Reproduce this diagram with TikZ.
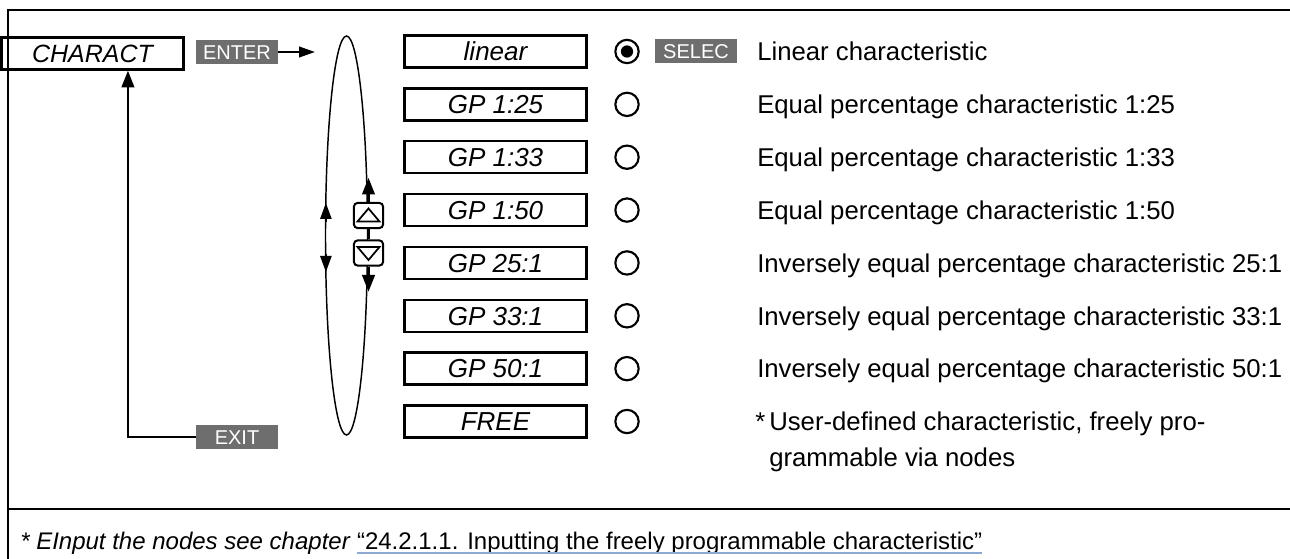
\documentclass[tikz,border=0pt]{standalone}
\usepackage{fontspec}
\setmainfont{Liberation Sans}
\usetikzlibrary{arrows.meta,calc}
\definecolor{keygray}{HTML}{6E6E6E}
\definecolor{linkblue}{HTML}{8DA8D2}
\begin{document}
\begin{tikzpicture}[x=0.75pt,y=-0.75pt,
  menubox/.style={draw, line width=1.8pt, minimum width=136.5pt, minimum height=24pt, inner sep=0pt,
    font=\fontsize{19.5}{22}\selectfont\itshape, text height=14pt, text depth=0pt},
  key/.style={fill=keygray, text=white, minimum width=61.5pt, minimum height=18pt, inner sep=0pt,
    font=\fontsize{15}{18}\selectfont, text height=10.8pt, text depth=0pt},
  desc/.style={anchor=west, inner sep=0pt, font=\fontsize{19.3}{27}\selectfont, text height=14pt, text depth=0pt},
  radio/.style={draw, circle, line width=1.6pt, minimum size=17.5pt, inner sep=0pt},
  btn/.style={draw, rounded corners=3pt, line width=1.5pt, minimum width=22pt, minimum height=19pt, inner sep=0pt, fill=white},
  conn/.style={line width=1.5pt},
  tip/.style={-{Triangle[length=12.5pt,width=9.5pt]}},
  smalltip/.style={-{Triangle[length=12pt,width=8.5pt]}},
  foot/.style={anchor=base west, inner sep=0pt, font=\fontsize{18}{21}\selectfont},
]
\useasboundingbox (0,0) rectangle (1290,559);
% frame
\draw[line width=1.5pt] (1290,10) -- (8,10) -- (8,559);
\draw[line width=1.5pt] (8,509.5) -- (1290,509.5);

% left part
\node[menubox, font=\fontsize{18.75}{22}\selectfont\itshape] (charact) at (92.5,53.5) {CHARACT};
\node[key] (enter) at (237,52) {ENTER};
\coordinate (loopin) at (315,52);
\draw[conn, -{Triangle[length=12pt,width=8pt]}] (enter.east) -- (loopin);
\node[key] (exit) at (237,437.5) {EXIT};
\draw[conn, tip] (exit.west) -| ([xshift=26.6pt]charact.south);

% scrolling loop
\draw[line width=1.1pt] (346.5,235.5) ellipse [x radius=21, y radius=199.5];
\draw[line width=1.1pt, smalltip] (325.9,222) -- (325.9,203);
\draw[line width=1.1pt, smalltip] (325.9,254) -- (325.9,272);

\node[btn] (up) at (368.5,215.5) {};
\node[btn] (dn) at (368.5,253) {};
\draw[line width=1.3pt] ($(up.center)+(-11,6)$) -- ($(up.center)+(11,6)$) -- ($(up.center)+(0,-7)$) -- cycle;
\draw[line width=1.3pt] ($(dn.center)+(-11,-6)$) -- ($(dn.center)+(11,-6)$) -- ($(dn.center)+(0,7)$) -- cycle;
\draw[conn] (up.south) -- (dn.north);
\draw[conn, tip] (up.north) -- ++(0,-24);
\draw[conn, tip] (dn.south) -- ++(0,25);

% menu entries
\foreach \lab [count=\i from 0] in {linear,GP 1:25,GP 1:33,GP 1:50,GP 25:1,GP 33:1,GP 50:1,FREE}{
  \node[menubox] (r\i) at (495.5,{51.5+52.86*\i}) {\lab};
  \node[radio] (c\i) at (627,{51.5+52.86*\i}) {};
}
\fill (c0.center) circle[radius=4.6pt];
\node[key] (selec) at (696,51) {SELEC};

% descriptions
\node[desc] (d0) at (757,51.5) {Linear characteristic};
\node[desc] (d1) at (757,104.36) {Equal percentage characteristic 1:25};
\node[desc] (d2) at (757,157.22) {Equal percentage characteristic 1:33};
\node[desc] (d3) at (757,210.08) {Equal percentage characteristic 1:50};
\node[desc] (d4) at (757,262.94) {Inversely equal percentage characteristic 25:1};
\node[desc] (d5) at (757,315.8) {Inversely equal percentage characteristic 33:1};
\node[desc] (d6) at (757,368.66) {Inversely equal percentage characteristic 50:1};
\node[desc] (star) at (755,421.5) {*};
\node[anchor=north west, inner sep=0pt, align=left, font=\fontsize{19.3}{27}\selectfont] (d7) at (769,411.5)
  {User-defined characteristic, freely pro-\\grammable via nodes};

% footnote
\node[foot, font=\fontsize{18}{21}\selectfont\itshape] (fn) at (20,550) {* EInput the nodes see chapter};
\node[foot] (link) at ([xshift=5pt]fn.base east) {“24.2.1.1. Inputting the freely programmable characteristic”};
\draw[linkblue, line width=1.5pt] ([yshift=-2.5pt]link.base west) -- ([yshift=-2.5pt]link.base east);
\end{tikzpicture}
\end{document}
